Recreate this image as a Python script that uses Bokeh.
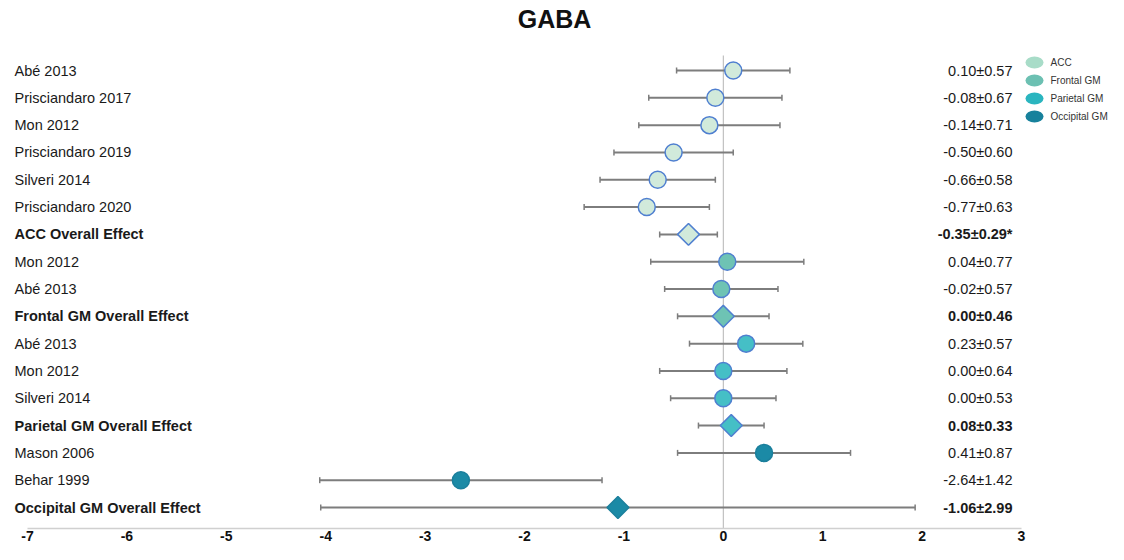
from bokeh.plotting import figure
from bokeh.models import ColumnDataSource, Range1d, Whisker, TeeHead, FixedTicker
from bokeh.core.properties import value
from bokeh.embed import file_html
from bokeh.resources import INLINE
import math

# ---------------- data ----------------
studies = ["Abé 2013", "Prisciandaro 2017", "Mon 2012", "Prisciandaro 2019",
           "Silveri 2014", "Prisciandaro 2020", "ACC Overall Effect",
           "Mon 2012", "Abé 2013", "Frontal GM Overall Effect",
           "Abé 2013", "Mon 2012", "Silveri 2014", "Parietal GM Overall Effect",
           "Mason 2006", "Behar 1999", "Occipital GM Overall Effect"]
effects = [0.10, -0.08, -0.14, -0.50, -0.66, -0.77, -0.35,
           0.04, -0.02, 0.00,
           0.23, 0.00, 0.00, 0.08,
           0.41, -2.64, -1.06]
ci = [0.57, 0.67, 0.71, 0.60, 0.58, 0.63, 0.29,
      0.77, 0.57, 0.46,
      0.57, 0.64, 0.53, 0.33,
      0.87, 1.42, 2.99]
regions = (["ACC"] * 7 + ["Frontal GM"] * 3 + ["Parietal GM"] * 4 + ["Occipital GM"] * 3)
overall = [False] * 6 + [True] + [False, False, True] + [False] * 3 + [True] + [False, False, True]
significant = [False] * 6 + [True] + [False] * 10
x_ticks = [-7, -6, -5, -4, -3, -2, -1, 0, 1, 2, 3]
legend_names = ["ACC", "Frontal GM", "Parietal GM", "Occipital GM"]
null_effect = 0.0

# ---------------- styles ----------------
marker_fill = {"ACC": "#d1eadb", "Frontal GM": "#6ec3b4",
               "Parietal GM": "#45bfc6", "Occipital GM": "#1b8aa6"}
marker_line = {"ACC": "#4f7fd0", "Frontal GM": "#4f7fd0",
               "Parietal GM": "#4f7fd0", "Occipital GM": "#1b7f9c"}
legend_fill = {"ACC": "#a8dcc8", "Frontal GM": "#6cc0b2",
               "Parietal GM": "#2ab5bf", "Occipital GM": "#17819c"}

FONT = "Liberation Sans"
W = 1108
PX = 99.4                 # pixels per unit on x
ROW = 27.3125             # pixels per row
FRAME_TOP = 34            # title panel height (2 + text + standoff)
FRAME_BOTTOM = 528
ZERO_TOP = 55             # where the null-effect line starts
X0_PIX = 27               # pixel of x = -7
X3_PIX = 1021             # pixel of x = 3

rows = list(range(len(studies)))
lo = [e - c for e, c in zip(effects, ci)]
hi = [e + c for e, c in zip(effects, ci)]
labels_val = [f"{e:.2f}±{c:.2f}" + ("*" if s else "") for e, c, s in zip(effects, ci, significant)]
styles = ["bold" if o else "normal" for o in overall]
markers = ["square" if o else "circle" for o in overall]
angles = [math.pi / 4 if o else 0.0 for o in overall]
sizes = [15.5 if o else 17 for o in overall]

src = ColumnDataSource(dict(
    y=rows, x=effects, lo=lo, hi=hi, study=studies, val=labels_val, style=styles,
    marker=markers, angle=angles, size=sizes,
    fill=[marker_fill[r] for r in regions], line=[marker_line[r] for r in regions],
))

x_start = -7 - X0_PIX / PX
x_end = 3 + (W - X3_PIX) / PX
y_top = (FRAME_TOP - 70) / ROW
y_bottom = (FRAME_BOTTOM - 70) / ROW

p = figure(frame_width=W, frame_height=FRAME_BOTTOM - FRAME_TOP,
           output_backend="svg", toolbar_location=None,
           x_range=Range1d(x_start, x_end), y_range=Range1d(y_bottom, y_top),
           y_axis_location=None, min_border_left=0, min_border_right=0,
           min_border_top=0, min_border_bottom=0)
p.title.text = "GABA"
p.title.align = "center"
p.title.text_font = FONT
p.title.text_font_size = "25px"
p.title.text_font_style = "bold"
p.title.text_color = "#111111"
p.title.standoff = 4
p.outline_line_color = None
p.grid.visible = False
p.background_fill_color = "white"
p.border_fill_color = "white"

ax = p.xaxis[0]
ax.ticker = FixedTicker(ticks=x_ticks)
ax.major_label_overrides = {t: str(t) for t in x_ticks}
ax.bounds = (-7, 3)
ax.axis_line_color = "#d0d0d0"
ax.axis_line_width = 1.5
ax.major_tick_line_color = None
ax.major_tick_out = 0
ax.minor_tick_line_color = None
ax.major_label_text_font = FONT
ax.major_label_text_font_style = "bold"
ax.major_label_text_font_size = "14px"
ax.major_label_text_color = "#111111"
ax.major_label_standoff = 2

# null-effect reference line
p.segment(x0=null_effect, y0=(ZERO_TOP - 70) / ROW, x1=null_effect, y1=y_bottom,
          line_color="#b5b5b5", line_width=1, level="underlay")

wh = Whisker(source=src, base="y", lower="lo", upper="hi", dimension="width",
             line_color="#7d7d7d", line_width=2, level="underlay",
             lower_head=TeeHead(size=6, line_color="#7d7d7d", line_width=1.5),
             upper_head=TeeHead(size=6, line_color="#7d7d7d", line_width=1.5))
p.add_layout(wh)

p.scatter(x="x", y="y", source=src, marker="marker", size="size", angle="angle",
          fill_color="fill", line_color="line", line_width=1.5)

label_x = -7 + (14 - X0_PIX) / PX
value_x = 3 + (1012 - X3_PIX) / PX
p.text(x=label_x, y="y", text="study", source=src, text_font=value(FONT),
       text_font_size="14.5px", text_font_style="style", text_color="#1a1a1a",
       text_align="left", text_baseline="middle")
p.text(x=value_x, y="y", text="val", source=src, text_font=value(FONT),
       text_font_size="14.5px", text_font_style="style", text_color="#1a1a1a",
       text_align="right", text_baseline="middle")

# legend (manual, to reproduce the oval swatches)
leg_src = ColumnDataSource(dict(
    name=legend_names,
    fill=[legend_fill[n] for n in legend_names],
    y=[(62 - 70) / ROW + i * 18 / ROW for i in range(len(legend_names))],
))
p.ellipse(x=3 + (1034 - X3_PIX) / PX, y="y", width=18, height=12,
          width_units="screen", height_units="screen", source=leg_src,
          fill_color="fill", line_color=None)
p.text(x=3 + (1050 - X3_PIX) / PX, y="y", text="name", source=leg_src,
       text_font=value(FONT), text_font_size="10px", text_color="#333333",
       text_align="left", text_baseline="middle")

open("out.html", "w").write(file_html(p, INLINE))
